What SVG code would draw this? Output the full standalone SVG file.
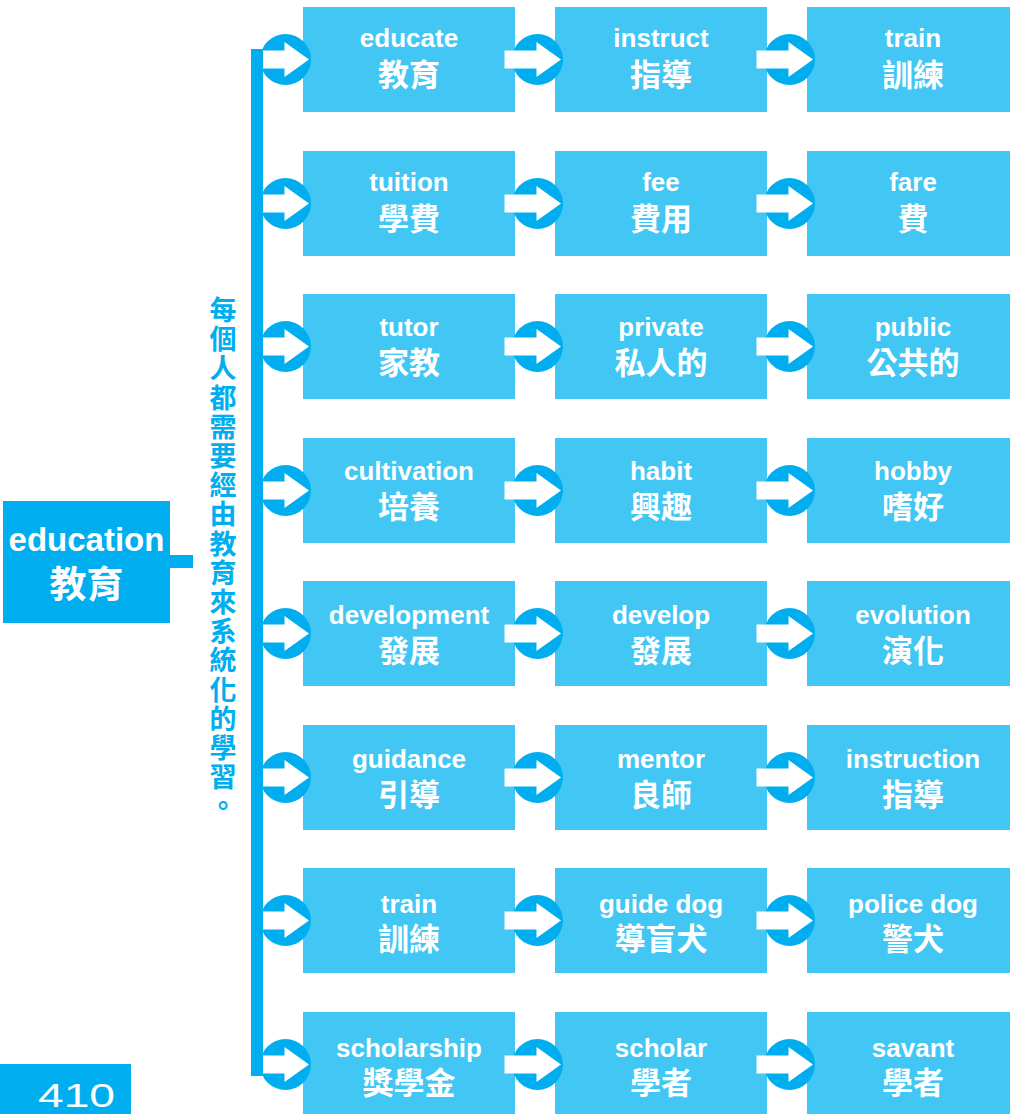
<svg xmlns="http://www.w3.org/2000/svg" xmlns:xlink="http://www.w3.org/1999/xlink" width="1010" height="1114" viewBox="0 0 1010 1114">
<style>
.box{fill:#42C7F4}
.dark{fill:#00AEEF}
.en{font-family:'Liberation Sans','Noto Sans CJK TC',sans-serif;font-weight:bold;font-size:26px;fill:#fff;text-anchor:middle}
.zh{font-family:'Noto Sans CJK TC','Liberation Sans',sans-serif;font-weight:bold;font-size:31px;fill:#fff;text-anchor:middle}
</style>
<defs>
<g id="arr">
<circle cx="0" cy="0" r="25.5" fill="#00AEEF"/>
<rect x="-33" y="-9" width="34" height="18" fill="#fff"/>
<polygon points="-1,-17.5 23.5,0 -1,17.5" fill="#fff"/>
</g>
</defs>
<rect width="1010" height="1114" fill="#fff"/>

<g id="main">
<rect class="dark" x="3" y="501" width="167" height="122"/>
<text x="86.5" y="551" style="font-family:'Liberation Sans',sans-serif;font-weight:bold;font-size:33px;fill:#fff;text-anchor:middle">education</text>
<text x="86.5" y="598" style="font-family:'Noto Sans CJK TC',sans-serif;font-weight:bold;font-size:37px;fill:#fff;text-anchor:middle">教育</text>
</g>

<g id="note">
<text style="font-family:'Noto Sans CJK TC',sans-serif;font-weight:bold;font-size:27px;fill:#00AEEF;text-anchor:middle" x="223 223 223 223 223 223 223 223 223 223 223 223 223 223 223 223 223 223" y="320 349.2 378.4 407.6 436.8 466 495.2 524.4 553.6 582.8 612 641.2 670.4 699.6 728.8 758 787.2 816.4">每個人都需要經由教育來系統化的學習。</text>
</g>

<g id="r1c1"><rect class="box" x="303" y="7" width="212" height="105"/><text class="en" x="409" y="47">educate</text><text class="zh" x="409" y="86">教育</text></g>
<g id="r1c2"><rect class="box" x="555" y="7" width="212" height="105"/><text class="en" x="661" y="47">instruct</text><text class="zh" x="661" y="86">指導</text></g>
<g id="r1c3"><rect class="box" x="807" y="7" width="212" height="105"/><text class="en" x="913" y="47">train</text><text class="zh" x="913" y="86">訓練</text></g>

<g id="r2c1"><rect class="box" x="303" y="151" width="212" height="105"/><text class="en" x="409" y="191">tuition</text><text class="zh" x="409" y="230">學費</text></g>
<g id="r2c2"><rect class="box" x="555" y="151" width="212" height="105"/><text class="en" x="661" y="191">fee</text><text class="zh" x="661" y="230">費用</text></g>
<g id="r2c3"><rect class="box" x="807" y="151" width="212" height="105"/><text class="en" x="913" y="191">fare</text><text class="zh" x="913" y="230">費</text></g>

<g id="r3c1"><rect class="box" x="303" y="294" width="212" height="105"/><text class="en" x="409" y="336">tutor</text><text class="zh" x="409" y="374">家教</text></g>
<g id="r3c2"><rect class="box" x="555" y="294" width="212" height="105"/><text class="en" x="661" y="336">private</text><text class="zh" x="661" y="374">私人的</text></g>
<g id="r3c3"><rect class="box" x="807" y="294" width="212" height="105"/><text class="en" x="913" y="336">public</text><text class="zh" x="913" y="374">公共的</text></g>

<g id="r4c1"><rect class="box" x="303" y="438" width="212" height="105"/><text class="en" x="409" y="480">cultivation</text><text class="zh" x="409" y="518">培養</text></g>
<g id="r4c2"><rect class="box" x="555" y="438" width="212" height="105"/><text class="en" x="661" y="480">habit</text><text class="zh" x="661" y="518">興趣</text></g>
<g id="r4c3"><rect class="box" x="807" y="438" width="212" height="105"/><text class="en" x="913" y="480">hobby</text><text class="zh" x="913" y="518">嗜好</text></g>

<g id="r5c1"><rect class="box" x="303" y="581" width="212" height="105"/><text class="en" x="409" y="624">development</text><text class="zh" x="409" y="662">發展</text></g>
<g id="r5c2"><rect class="box" x="555" y="581" width="212" height="105"/><text class="en" x="661" y="624">develop</text><text class="zh" x="661" y="662">發展</text></g>
<g id="r5c3"><rect class="box" x="807" y="581" width="212" height="105"/><text class="en" x="913" y="624">evolution</text><text class="zh" x="913" y="662">演化</text></g>

<g id="r6c1"><rect class="box" x="303" y="725" width="212" height="105"/><text class="en" x="409" y="768">guidance</text><text class="zh" x="409" y="806">引導</text></g>
<g id="r6c2"><rect class="box" x="555" y="725" width="212" height="105"/><text class="en" x="661" y="768">mentor</text><text class="zh" x="661" y="806">良師</text></g>
<g id="r6c3"><rect class="box" x="807" y="725" width="212" height="105"/><text class="en" x="913" y="768">instruction</text><text class="zh" x="913" y="806">指導</text></g>

<g id="r7c1"><rect class="box" x="303" y="868" width="212" height="105"/><text class="en" x="409" y="913">train</text><text class="zh" x="409" y="950">訓練</text></g>
<g id="r7c2"><rect class="box" x="555" y="868" width="212" height="105"/><text class="en" x="661" y="913">guide dog</text><text class="zh" x="661" y="950">導盲犬</text></g>
<g id="r7c3"><rect class="box" x="807" y="868" width="212" height="105"/><text class="en" x="913" y="913">police dog</text><text class="zh" x="913" y="950">警犬</text></g>

<g id="r8c1"><rect class="box" x="303" y="1012" width="212" height="105"/><text class="en" x="409" y="1057">scholarship</text><text class="zh" x="409" y="1094">獎學金</text></g>
<g id="r8c2"><rect class="box" x="555" y="1012" width="212" height="105"/><text class="en" x="661" y="1057">scholar</text><text class="zh" x="661" y="1094">學者</text></g>
<g id="r8c3"><rect class="box" x="807" y="1012" width="212" height="105"/><text class="en" x="913" y="1057">savant</text><text class="zh" x="913" y="1094">學者</text></g>

<g id="connectors">
<rect class="dark" x="170" y="555" width="23" height="13"/>
<use xlink:href="#arr" x="285.5" y="59.5"/><use xlink:href="#arr" x="537.5" y="59.5"/><use xlink:href="#arr" x="789.5" y="59.5"/>
<use xlink:href="#arr" x="285.5" y="203.5"/><use xlink:href="#arr" x="537.5" y="203.5"/><use xlink:href="#arr" x="789.5" y="203.5"/>
<use xlink:href="#arr" x="285.5" y="346.5"/><use xlink:href="#arr" x="537.5" y="346.5"/><use xlink:href="#arr" x="789.5" y="346.5"/>
<use xlink:href="#arr" x="285.5" y="490.5"/><use xlink:href="#arr" x="537.5" y="490.5"/><use xlink:href="#arr" x="789.5" y="490.5"/>
<use xlink:href="#arr" x="285.5" y="633.5"/><use xlink:href="#arr" x="537.5" y="633.5"/><use xlink:href="#arr" x="789.5" y="633.5"/>
<use xlink:href="#arr" x="285.5" y="777.5"/><use xlink:href="#arr" x="537.5" y="777.5"/><use xlink:href="#arr" x="789.5" y="777.5"/>
<use xlink:href="#arr" x="285.5" y="920.5"/><use xlink:href="#arr" x="537.5" y="920.5"/><use xlink:href="#arr" x="789.5" y="920.5"/>
<use xlink:href="#arr" x="285.5" y="1064.5"/><use xlink:href="#arr" x="537.5" y="1064.5"/><use xlink:href="#arr" x="789.5" y="1064.5"/>
<rect class="dark" x="251" y="49" width="12" height="1027"/>
</g>

<g id="page">
<rect class="dark" x="0" y="1064" width="131" height="50"/>
<text x="38" y="1107" textLength="77" lengthAdjust="spacingAndGlyphs" style="font-family:'Liberation Sans',sans-serif;font-size:33px;fill:#fff">410</text>
</g>
</svg>
